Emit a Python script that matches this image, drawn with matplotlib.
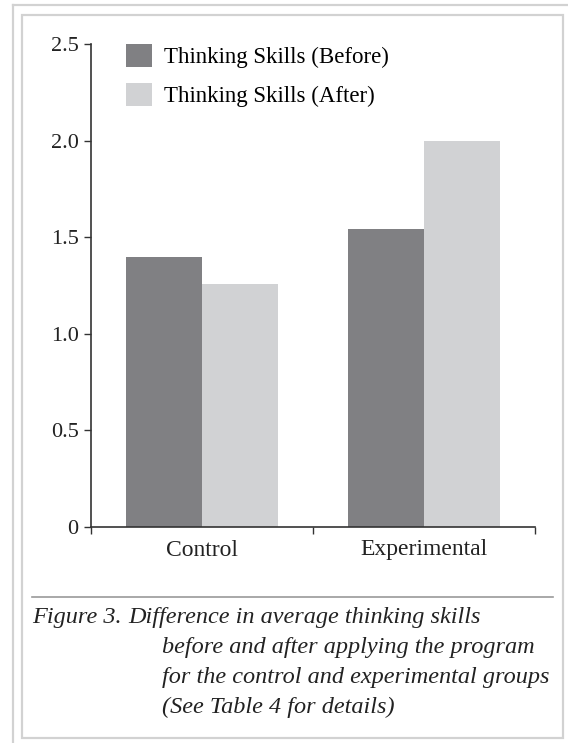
import numpy as np
import matplotlib.pyplot as plt
from matplotlib.lines import Line2D
from matplotlib.patches import Rectangle

# Data
groups = ['Control', 'Experimental']
before = [1.40, 1.54]
after = [1.26, 2.00]
series_labels = ['Thinking Skills (Before)', 'Thinking Skills (After)']
yticks = [0, 0.5, 1.0, 1.5, 2.0, 2.5]
ytick_labels = ['0', '0.5', '1.0', '1.5', '2.0', '2.5']
caption_head = 'Figure 3.'
caption = ['Difference in average thinking skills',
           'before and after applying the program',
           'for the control and experimental groups',
           '(See Table 4 for details)']

W, H = 568, 743
plt.rcParams['font.family'] = ['Liberation Serif', 'DejaVu Serif']

fig = plt.figure(figsize=(W / 100, H / 100), dpi=100)


def fx(x):
    return x / W


def fy(y):
    return 1 - y / H


# page frames
frame_col = '#d2d2d2'
fig.add_artist(Line2D([fx(13), fx(W)], [fy(5), fy(5)], color=frame_col, lw=1.6))
fig.add_artist(Line2D([fx(13), fx(13)], [fy(5), fy(H)], color=frame_col, lw=1.6))
fig.add_artist(Rectangle((fx(22), fy(738)), fx(563) - fx(22), fy(15) - fy(738),
                         fill=False, edgecolor=frame_col, lw=1.6))

# axes
ax = fig.add_axes([fx(91), fy(527), fx(535) - fx(91), fy(44) - fy(527)])
x = np.arange(len(groups))
w = 0.342
ax.bar(x - w / 2, before, w, color='#808083', label=series_labels[0])
ax.bar(x + w / 2, after, w, color='#d1d2d4', label=series_labels[1])

ax.set_xlim(-0.5, len(groups) - 0.5)
ax.set_ylim(0, 2.5)
ax.set_yticks(yticks)
ax.set_yticklabels(ytick_labels, fontsize=16, color='#222222')
ax.set_xticks(np.arange(len(groups) + 1) - 0.5)
ax.set_xticklabels([])
ax.set_xticks(x, minor=True)
ax.set_xticklabels(groups, minor=True, fontsize=17, color='#222222')
ax.tick_params(axis='x', which='minor', length=0, pad=9)
ax.tick_params(axis='x', which='major', length=5, width=1, color='#333333')
ax.tick_params(axis='y', length=5, width=1, color='#333333', pad=4)
for s in ['top', 'right']:
    ax.spines[s].set_visible(False)
for s in ['left', 'bottom']:
    ax.spines[s].set_color('#333333')
    ax.spines[s].set_linewidth(1.2)

ax.legend(loc='upper left', bbox_to_anchor=(fx(126), fy(44)), bbox_transform=fig.transFigure,
          frameon=False, fontsize=16.5, handlelength=1.15, handleheight=1.15,
          handletextpad=0.5, labelspacing=0.65, borderaxespad=0, borderpad=0)

# caption
fig.add_artist(Line2D([fx(32), fx(553)], [fy(597), fy(597)], color='#9a9a9a', lw=1.2))
fig.text(fx(32), fy(617), caption_head, fontsize=17.5, style='italic',
         color='#222222', va='center', ha='left')
for i, line in enumerate(caption):
    xpos = 128 if i == 0 else 162
    fig.text(fx(xpos), fy(617 + 30 * i), line, fontsize=17.5, style='italic',
             color='#222222', va='center', ha='left')

fig.savefig('out.png', dpi=100)
